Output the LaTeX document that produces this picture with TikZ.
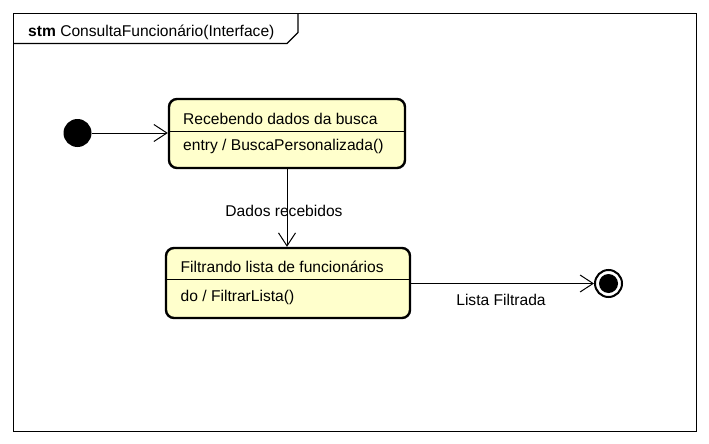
\documentclass[tikz,border=0pt]{standalone}
\usepackage{fontspec}
\setmainfont{Liberation Sans}
\usetikzlibrary{arrows.meta}
\definecolor{statefill}{HTML}{FFFFCC}
\tikzset{
  statebox/.style={draw=black, line width=2.4pt, fill=statefill, rounded corners=8pt, inner sep=0pt},
  lbl/.style={font=\fontsize{15.6}{18}\selectfont, inner sep=0pt},
  trans/.style={draw=black, line width=1pt, -{Straight Barb[length=13pt,width=17pt,line width=1pt]}},
}
\begin{document}
\begin{tikzpicture}[x=1pt,y=-1pt]
\useasboundingbox[fill=white] (0,0) rectangle (709,444);
% frame
\draw[line width=1.2pt] (13.5,13.5) rectangle (696.5,431.5);
\coordinate (tabA) at (13.5,43.5);
\coordinate (tabB) at (287,43.5);
\coordinate (tabC) at (298,32.5);
\coordinate (tabD) at (298,13.5);
\draw[line width=1.2pt] (tabA) -- (tabB) -- (tabC) -- (tabD);
\node[lbl, anchor=base west] (title) at (28,36.5) {\textbf{stm} ConsultaFuncionário(Interface)};
% initial
\node[circle, fill=black, minimum size=28pt, inner sep=0pt] (init) at (77.5,133) {};
% state 1
\node[statebox, minimum width=236pt, minimum height=69pt] (s1) at (287,133.5) {};
\draw[line width=1pt] (s1.west |- 0,131.5) -- (s1.east |- 0,131.5);
\node[lbl, anchor=base west] (s1name) at (183,124) {Recebendo dados da busca};
\node[lbl, anchor=base west] (s1act) at (183,150) {entry / BuscaPersonalizada()};
% state 2
\node[statebox, minimum width=244pt, minimum height=70pt] (s2) at (288,283) {};
\draw[line width=1pt] (s2.west |- 0,279) -- (s2.east |- 0,279);
\node[lbl, anchor=base west] (s2name) at (180.5,272.5) {Filtrando lista de funcionários};
\node[lbl, anchor=base west] (s2act) at (180.5,301.5) {do / FiltrarLista()};
% final
\node[circle, draw=black, line width=2pt, fill=white, minimum size=27pt, inner sep=0pt] (fin) at (608.5,283.5) {};
\node[circle, fill=black, minimum size=19pt, inner sep=0pt] (finin) at (fin.center) {};
% transitions
\draw[trans] (init.east) -- (s1.west |- init.east);
\draw[trans] (s1.south -| 287,0) -- (s2.north -| 287,0);
\draw[trans] (s2.east |- 0,283.5) -- (fin.west);
\node[lbl] (t1) at (284,211) {Dados recebidos};
\node[lbl] (t2) at (501,299.5) {Lista Filtrada};
\end{tikzpicture}
\end{document}
